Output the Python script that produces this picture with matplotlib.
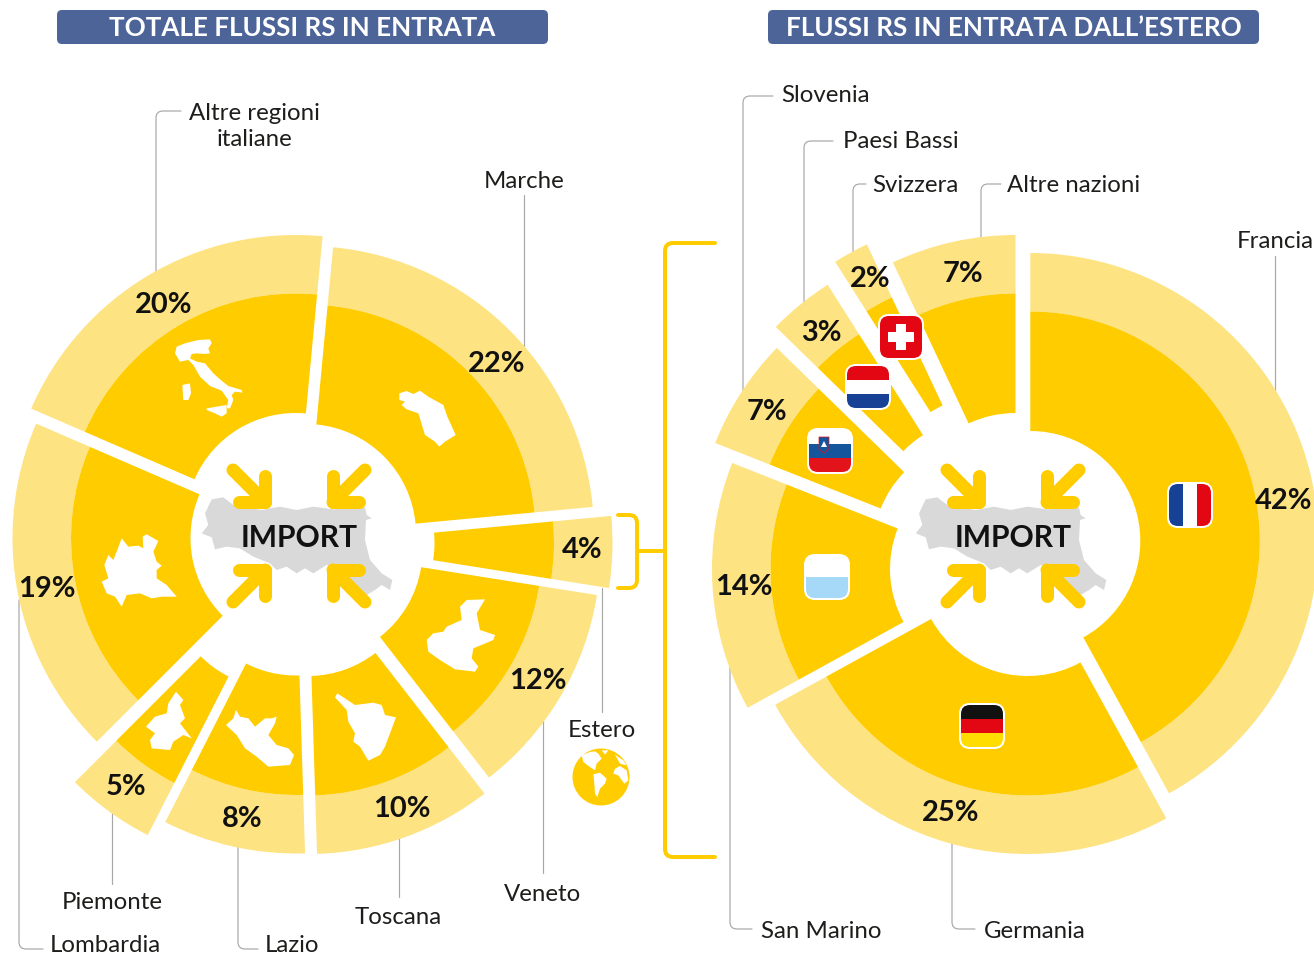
import numpy as np
import matplotlib
matplotlib.use('Agg')
import matplotlib.pyplot as plt
from matplotlib.patches import Wedge, Polygon, FancyBboxPatch, Rectangle, Circle, PathPatch
from matplotlib.path import Path

# Data
left_names = ['Marche', 'Estero', 'Veneto', 'Toscana', 'Lazio', 'Piemonte', 'Lombardia', 'Altre regioni']
left_values = [22, 4, 12, 10, 8, 5, 19, 20]
right_names = ['Francia', 'Germania', 'San Marino', 'Slovenia', 'Paesi Bassi', 'Svizzera', 'Altre nazioni']
right_values = [42, 25, 14, 7, 3, 2, 7]
# slice widths as drawn (the rounded labels do not quite match for Slovenia / Paesi Bassi)
right_shares = [42, 25, 14, 6.3, 3.7, 2, 7]

# Layout, in pixels
DARK = '#FFCC00'
LIGHT = '#FEE382'
HEADER = '#4D6499'
GREY = '#D9D9D9'
LINE = '#A8A8A8'
R_IN, R_MID, R_OUT = 110, 229.5, 288
left_start = 5.4
right_start = 0.0
left_apex = [(306, 534), (324.5, 543), (312.5, 550), (308, 566), (296, 565.5), (278.5, 578.5), (300.5, 538), (295.5, 523)]
right_apex = [(1030.3, 541), (1027.5, 566), (1000, 569), (983, 549), (982, 528), (989.5, 505), (1015.5, 523)]
left_pct_pos = [(497, 364), (582, 550), (538, 681), (402, 809), (242, 819), (126, 787), (47, 589), (164, 305)]
right_pct_pos = [(1284, 501), (951, 813), (744, 587), (767, 412), (821, 333), (870, 279), (963, 274)]

LABEL_FONT = ['Lato', 'Roboto', 'DejaVu Sans']
BOLD_FONT = ['Lato', 'Roboto', 'DejaVu Sans']

fig = plt.figure(figsize=(13.14, 9.55), dpi=100)
ax = fig.add_axes([0, 0, 1, 1])
ax.set_xlim(0, 1314)
ax.set_ylim(955, 0)
ax.axis('off')


def px(v):
    return v * 0.72


def rounded(points, r=7):
    # polyline with rounded corners
    verts = [points[0]]
    codes = [Path.MOVETO]
    for i in range(1, len(points) - 1):
        p0, p1, p2 = [np.array(points[j], float) for j in (i - 1, i, i + 1)]
        a = p1 + (p0 - p1) / np.linalg.norm(p0 - p1) * r
        b = p1 + (p2 - p1) / np.linalg.norm(p2 - p1) * r
        verts += [a, p1, b]
        codes += [Path.LINETO, Path.CURVE3, Path.CURVE3]
    verts.append(points[-1])
    codes.append(Path.LINETO)
    return Path(verts, codes)


def draw_line(points, color=LINE, w=1.2, r=7, z=1):
    ax.add_patch(PathPatch(rounded(points, r), fill=False, edgecolor=color, lw=px(w),
                           capstyle='round', zorder=z))


def donut(values, apexes, start):
    angle = start
    for v, apex in zip(values, apexes):
        span = v * 3.6
        t1, t2 = angle - 90, angle + span - 90
        ax.add_patch(Wedge(apex, R_OUT, t1, t2, width=R_OUT - R_MID, fc=LIGHT, ec='none', zorder=2))
        ax.add_patch(Wedge(apex, R_MID, t1, t2, width=R_MID - R_IN, fc=DARK, ec='none', zorder=2))
        angle += span


def shape(points, ox, oy, scale=1 / 3, color='white', z=3):
    pts = [(ox + x * scale, oy + y * scale) for x, y in points]
    ax.add_patch(Polygon(pts, closed=True, fc=color, ec='none', zorder=z))


def label(x, y, s, ha='center'):
    ax.text(x, y, s, ha=ha, va='center', fontsize=px(24), color='#1d1d1b', family=LABEL_FONT, zorder=6)


def flag(cx, cy, stripes, vertical=False):
    s = 42
    x0, y0 = cx - s / 2, cy - s / 2
    clip = FancyBboxPatch((x0, y0), s, s, boxstyle='round,pad=0,rounding_size=9', fc='white',
                          ec='white', lw=px(4), zorder=4)
    ax.add_patch(clip)
    n = len(stripes)
    for i, c in enumerate(stripes):
        if vertical:
            r = Rectangle((x0 + i * s / n, y0), s / n, s, fc=c, ec='none', zorder=4.5)
        else:
            r = Rectangle((x0, y0 + i * s / n), s, s / n, fc=c, ec='none', zorder=4.5)
        ax.add_patch(r)
        r.set_clip_path(clip)


# Headers
for x0, x1, title in [(57, 548, 'TOTALE FLUSSI RS IN ENTRATA'), (768, 1259, 'FLUSSI RS IN ENTRATA DALL\u2019ESTERO')]:
    ax.add_patch(FancyBboxPatch((x0, 10), x1 - x0, 34, boxstyle='round,pad=0,rounding_size=5',
                                fc=HEADER, ec='none', zorder=1))
    ax.text((x0 + x1) / 2, 28, title, ha='center', va='center', color='white', fontsize=px(26),
            fontweight='bold', family=BOLD_FONT, zorder=2)

# Leader lines
leaders = [
    [(156, 272), (156, 111), (181, 111)],
    [(524, 195), (524, 350)],
    [(602, 588), (602, 712)],
    [(543, 715), (543, 873)],
    [(399, 837), (399, 897)],
    [(238, 846), (238, 949), (258, 949)],
    [(112, 812), (112, 884)],
    [(19, 600), (19, 949), (43, 949)],
    [(743, 392), (743, 96), (773, 96)],
    [(804, 307), (804, 141), (833, 141)],
    [(853, 254), (853, 184), (866, 184)],
    [(981, 238), (981, 184), (1001, 184)],
    [(1275, 396), (1275, 256)],
    [(730, 667), (730, 929), (752, 929)],
    [(952, 843), (952, 929), (975, 929)],
]
for pts in leaders:
    draw_line(pts)

# Brackets
draw_line([(618, 515), (637, 515), (637, 588), (618, 588)], DARK, 4, 8, 3)
draw_line([(637, 551), (665, 551)], DARK, 4, 8, 3)
draw_line([(715, 243), (665, 243), (665, 857), (715, 857)], DARK, 4, 8, 3)

donut(left_values, left_apex, left_start)
donut(right_shares, right_apex, right_start)

# Region silhouettes (outlines traced in crop pixels, 3x)
italy = [(35, 50), (60, 40), (100, 30), (135, 28), (140, 40), (130, 55), (135, 70), (120, 72), (95, 70), (80, 72),
         (75, 85), (95, 95), (120, 100), (145, 130), (165, 148), (190, 168), (230, 180), (232, 188), (210, 185),
         (200, 195), (205, 210), (195, 235), (185, 235), (190, 210), (170, 182), (135, 168), (105, 140), (85, 105),
         (70, 90), (45, 95), (30, 70)]
sicily = [(125, 235), (185, 225), (185, 250), (170, 260), (150, 250), (125, 240)]
sardinia = [(52, 165), (75, 160), (78, 190), (70, 210), (55, 210)]
marche = [(28, 40), (50, 33), (70, 42), (90, 32), (115, 50), (160, 75), (172, 110), (197, 165), (165, 185), (148, 200),
          (135, 185), (105, 165), (85, 100), (50, 88), (35, 75), (45, 65), (28, 60)]
lombardia = [(80, 40), (100, 65), (130, 62), (145, 70), (143, 35), (155, 28), (190, 48), (175, 80), (185, 110),
             (200, 122), (185, 135), (185, 160), (215, 180), (245, 215), (200, 215), (170, 220), (135, 205), (95, 210),
             (80, 245), (60, 215), (35, 205), (20, 170), (40, 160), (28, 120), (40, 90), (55, 105), (65, 80)]
piemonte = [(108, 20), (130, 45), (120, 60), (135, 100), (120, 115), (155, 160), (130, 150), (100, 170), (90, 195),
            (35, 190), (30, 165), (45, 145), (18, 125), (45, 95), (80, 85), (85, 55)]
lazio = [(288, 75), (300, 95), (325, 100), (345, 125), (375, 100), (395, 100), (410, 95), (405, 115), (385, 150),
         (410, 180), (445, 190), (462, 210), (450, 240), (385, 245), (350, 215), (315, 190), (290, 150), (258, 120),
         (280, 100)]
veneto = [(410, 30), (465, 28), (440, 70), (450, 120), (495, 135), (490, 150), (430, 175), (425, 205), (445, 230),
          (435, 245), (375, 238), (330, 210), (295, 185), (290, 150), (310, 130), (340, 125), (350, 110), (395, 90),
          (390, 50)]
toscana = [(22, 310), (75, 345), (130, 338), (155, 345), (165, 375), (198, 382), (180, 430), (165, 470), (150, 495),
           (115, 512), (90, 470), (70, 455), (75, 430), (55, 395), (50, 360), (15, 322)]
for pts in (italy, sicily, sardinia):
    shape(pts, 165, 330)
shape(marche, 390, 380)
shape(lombardia, 95, 525)
shape(piemonte, 140, 685)
shape(lazio, 140, 685)
shape(veneto, 330, 590)
shape(toscana, 330, 590)

# Globe
ax.add_patch(Circle((601, 777), 28.5, fc=DARK, ec='none', zorder=3))
globe_land = [
    [(50, 40), (75, 30), (90, 28), (100, 35), (110, 50), (95, 65), (90, 85), (75, 75), (55, 60)],
    [(110, 25), (130, 25), (120, 38)],
    [(85, 97), (105, 92), (125, 110), (120, 125), (105, 140), (97, 165), (90, 155), (88, 125)],
    [(150, 80), (165, 72), (185, 85), (190, 115), (178, 125), (160, 100), (145, 95)],
    [(150, 38), (175, 55), (185, 70), (165, 65)],
]
for pts in globe_land:
    shape(pts, 565, 742, z=4)

# Centre: grey map, arrows, word
emilia = [(45, 190), (65, 148), (100, 142), (130, 165), (215, 180), (270, 170), (320, 180), (370, 170), (430, 178),
          (525, 172), (530, 195), (545, 205), (528, 210), (525, 270), (540, 330), (575, 370), (607, 390), (600, 420),
          (575, 405), (555, 420), (530, 435), (500, 420), (460, 360), (410, 345), (370, 370), (345, 355), (320, 370),
          (290, 350), (260, 360), (240, 340), (190, 320), (150, 295), (110, 290), (75, 298), (65, 262), (35, 250),
          (55, 225)]
for cx in (299, 1013):
    shape(emilia, 190 + cx - 299, 450, color=GREY, z=3)
    for sx in (-1, 1):
        for sy in (-1, 1):
            corner = (cx + sx * 34, 536 + sy * 34)
            for end in [(cx + sx * 66, 536 + sy * 66), (cx + sx * 34, 536 + sy * 60), (cx + sx * 60, 536 + sy * 34)]:
                ax.plot([corner[0], end[0]], [corner[1], end[1]], color=DARK, lw=px(13),
                        solid_capstyle='round', zorder=4)
    ax.text(cx, 538, 'IMPORT', ha='center', va='center', fontsize=px(30), fontweight='bold',
            color='#111111', family=BOLD_FONT, zorder=5)

# Flags
flag(1190, 505, ['#164194', 'white', '#E30613'], vertical=True)
flag(982, 726, ['#111111', '#E30613', '#FFDD00'])
flag(827, 577, ['white', '#A5D9F7'])
flag(830, 451, ['white', '#14559C', '#E3131B'])
ax.add_patch(Polygon([(819, 437), (829, 437), (829, 449), (824, 453), (819, 449)], fc='#14559C', ec='#E3131B',
                     lw=0.5, zorder=5))
ax.add_patch(Polygon([(821, 447), (824, 441), (827, 447)], fc='white', ec='none', zorder=5.1))
flag(868, 387, ['#E30613', 'white', '#164194'])
flag(901, 337, ['#E30613'])
ax.add_patch(Rectangle((888, 332), 26, 10, fc='white', ec='none', zorder=5))
ax.add_patch(Rectangle((896, 324), 10, 26, fc='white', ec='none', zorder=5))

# Percent labels
for v, (x, y) in list(zip(left_values, left_pct_pos)) + list(zip(right_values, right_pct_pos)):
    ax.text(x, y, f'{v}%', ha='center', va='center', fontsize=px(29), fontweight='bold', color='#111111',
            family=BOLD_FONT, zorder=6)

# Name labels
label(254, 114, 'Altre regioni')
label(254, 139, 'italiane')
label(524, 181, left_names[0])
label(602, 730, left_names[1])
label(543, 894, left_names[2])
label(398, 917, left_names[3])
label(265, 945, left_names[4], ha='left')
label(112, 902, left_names[5])
label(50, 945, left_names[6], ha='left')
label(1237, 241, right_names[0], ha='left')
label(984, 931, right_names[1], ha='left')
label(761, 931, right_names[2], ha='left')
label(781, 96, right_names[3], ha='left')
label(843, 142, right_names[4], ha='left')
label(872, 185, right_names[5], ha='left')
label(1007, 185, right_names[6], ha='left')

fig.savefig('out.png', dpi=100)
